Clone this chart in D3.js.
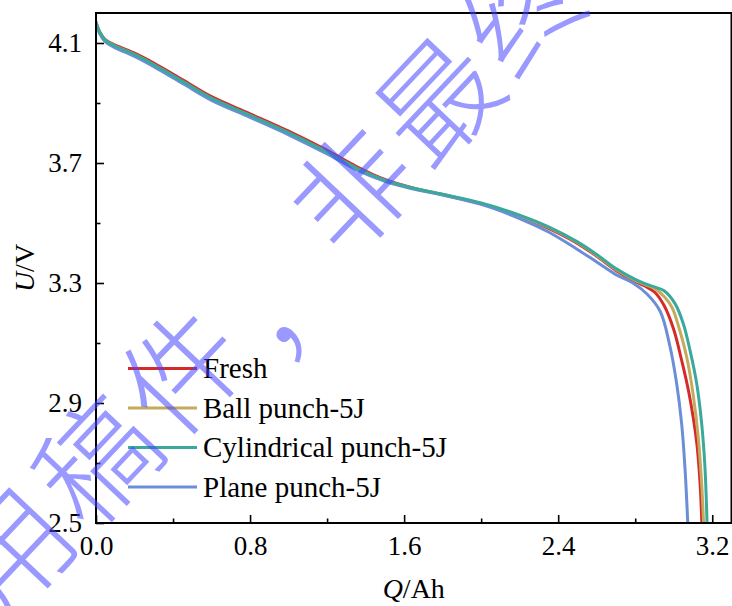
<!DOCTYPE html>
<html>
<head>
<meta charset="utf-8">
<script src="https://cdn.jsdelivr.net/npm/d3@7"></script>
<style>
  html, body { margin: 0; padding: 0; background: #fff; }
  svg { display: block; }
  .serif { font-family: "Liberation Serif", "Times New Roman", Times, Tinos, "DejaVu Serif", "Noto Serif", serif; }
</style>
</head>
<body>
<svg id="chart" width="732" height="606"></svg>
<script>
// ---- discharge curves: capacity Q (Ah) vs. voltage U (V) ----
const seriesNames  = ["Fresh", "Ball punch-5J", "Cylindrical punch-5J", "Plane punch-5J"];
const seriesColors = ["#d62a2a", "#c4aa5c", "#3aa99c", "#6a8ed8"];

const freshQ = [0, 0.02, 0.05, 0.1, 0.2, 0.3, 0.45, 0.6, 0.8, 1.0, 1.2, 1.35, 1.5, 1.65, 1.8, 2.0, 2.2, 2.35, 2.5, 2.6, 2.7, 2.8, 2.85, 2.9, 2.95, 3.0, 3.04, 3.08, 3.12, 3.137, 3.146];
const freshU = [4.170, 4.136, 4.110, 4.093, 4.066, 4.033, 3.977, 3.921, 3.864, 3.806, 3.742, 3.689, 3.645, 3.616, 3.595, 3.564, 3.522, 3.482, 3.432, 3.389, 3.342, 3.305, 3.290, 3.270, 3.225, 3.145, 3.045, 2.930, 2.765, 2.630, 2.500];

const ballQ = [0, 0.02, 0.05, 0.1, 0.2, 0.3, 0.45, 0.6, 0.8, 1.0, 1.2, 1.35, 1.5, 1.65, 1.8, 2.0, 2.2, 2.35, 2.5, 2.6, 2.7, 2.8, 2.85, 2.9, 2.95, 2.99, 3.03, 3.067, 3.1, 3.127, 3.145, 3.155];
const ballU = [4.168, 4.134, 4.108, 4.090, 4.061, 4.027, 3.971, 3.915, 3.858, 3.800, 3.736, 3.683, 3.642, 3.615, 3.595, 3.565, 3.524, 3.485, 3.435, 3.392, 3.345, 3.309, 3.295, 3.282, 3.255, 3.220, 3.145, 3.054, 2.932, 2.788, 2.632, 2.500];

const cylQ = [0, 0.02, 0.05, 0.1, 0.2, 0.3, 0.45, 0.6, 0.8, 1.0, 1.2, 1.35, 1.5, 1.65, 1.8, 2.0, 2.2, 2.35, 2.5, 2.6, 2.7, 2.8, 2.85, 2.9, 2.95, 3.006, 3.049, 3.084, 3.119, 3.145, 3.162, 3.173];
const cylU = [4.168, 4.135, 4.108, 4.090, 4.062, 4.028, 3.972, 3.916, 3.859, 3.801, 3.737, 3.684, 3.643, 3.616, 3.596, 3.567, 3.526, 3.487, 3.437, 3.395, 3.348, 3.312, 3.298, 3.287, 3.274, 3.232, 3.166, 3.077, 2.966, 2.832, 2.688, 2.500];

const planeQ = [0, 0.02, 0.05, 0.1, 0.2, 0.3, 0.45, 0.6, 0.8, 1.0, 1.2, 1.35, 1.5, 1.65, 1.8, 2.0, 2.2, 2.35, 2.5, 2.6, 2.7, 2.79, 2.86, 2.93, 2.98, 3.015, 3.041, 3.058, 3.073];
const planeU = [4.165, 4.130, 4.103, 4.084, 4.055, 4.021, 3.965, 3.909, 3.852, 3.794, 3.730, 3.678, 3.639, 3.613, 3.593, 3.562, 3.515, 3.470, 3.412, 3.370, 3.328, 3.299, 3.264, 3.205, 3.090, 2.966, 2.832, 2.688, 2.500];

const xMajorTicks = [0, 0.8, 1.6, 2.4, 3.2];
const xMinorTicks = [0.4, 1.2, 2.0, 2.8];
const yMajorTicks = [2.5, 2.9, 3.3, 3.7, 4.1];
const yMinorTicks = [2.7, 3.1, 3.5, 3.9];

const watermarkText = "录用稿件，非最终出版稿";

// ---- layout ----
const svg = d3.select("#chart");
const plotLeft = 96, plotRight = 731.5, plotTop = 13, plotBottom = 523;

const x = d3.scaleLinear().domain([0, 3.3]).range([plotLeft, plotRight]);
const y = d3.scaleLinear().domain([2.5, 4.2]).range([plotBottom, plotTop]);

const series = [
  { name: seriesNames[0], color: seriesColors[0], q: freshQ, u: freshU },
  { name: seriesNames[1], color: seriesColors[1], q: ballQ,  u: ballU },
  { name: seriesNames[2], color: seriesColors[2], q: cylQ,   u: cylU },
  { name: seriesNames[3], color: seriesColors[3], q: planeQ, u: planeU }
];

// clip curves to the plot frame
svg.append("defs").append("clipPath").attr("id", "plotClip")
  .append("rect").attr("x", plotLeft).attr("y", plotTop)
  .attr("width", plotRight - plotLeft).attr("height", plotBottom - plotTop);

const line = d3.line()
  .x(d => x(d[0]))
  .y(d => y(d[1]))
  .curve(d3.curveCatmullRom.alpha(0.5));

const drawOrder = [0, 1, 3, 2];
const curves = svg.append("g").attr("clip-path", "url(#plotClip)");
drawOrder.forEach(i => {
  const s = series[i];
  curves.append("path")
    .datum(s.q.map((q, k) => [q, s.u[k]]))
    .attr("d", line)
    .attr("fill", "none")
    .attr("stroke", s.color)
    .attr("stroke-width", 3)
    .attr("stroke-linejoin", "round")
    .attr("stroke-linecap", "round");
});

// ---- axes (ticks point inward) ----
const tickFmt = d3.format(".1f");

const gx = svg.append("g").attr("transform", `translate(0,${plotBottom})`);
gx.call(d3.axisBottom(x).tickValues(xMajorTicks).tickSize(-8).tickFormat(tickFmt));
const gxMinor = svg.append("g").attr("transform", `translate(0,${plotBottom})`);
gxMinor.call(d3.axisBottom(x).tickValues(xMinorTicks).tickSize(-4.5).tickFormat(""));

const gy = svg.append("g").attr("transform", `translate(${plotLeft},0)`);
gy.call(d3.axisLeft(y).tickValues(yMajorTicks).tickSize(-8).tickFormat(tickFmt));
const gyMinor = svg.append("g").attr("transform", `translate(${plotLeft},0)`);
gyMinor.call(d3.axisLeft(y).tickValues(yMinorTicks).tickSize(-4.5).tickFormat(""));

[gx, gxMinor, gy, gyMinor].forEach(g => {
  g.attr("font-family", null).attr("font-size", null);
  g.select(".domain").remove();
  g.selectAll(".tick line").attr("stroke", "#000").attr("stroke-width", 1.6);
});

gx.selectAll(".tick text")
  .attr("class", "serif")
  .attr("y", 32).attr("dy", 0)
  .attr("fill", "#000")
  .style("font-size", "27px");

gy.selectAll(".tick text")
  .attr("class", "serif")
  .attr("x", -14).attr("dy", "0.33em")
  .attr("fill", "#000")
  .style("font-size", "27px");

// frame
svg.append("rect")
  .attr("x", plotLeft).attr("y", plotTop)
  .attr("width", plotRight - plotLeft).attr("height", plotBottom - plotTop)
  .attr("fill", "none").attr("stroke", "#000").attr("stroke-width", 2);

// axis titles
const xt = svg.append("text")
  .attr("class", "serif")
  .attr("x", (plotLeft + plotRight) / 2).attr("y", 598)
  .attr("text-anchor", "middle")
  .style("font-size", "28px");
xt.append("tspan").style("font-style", "italic").text("Q");
xt.append("tspan").text("/Ah");

const yt = svg.append("text")
  .attr("class", "serif")
  .attr("transform", `translate(34,${(plotTop + plotBottom) / 2}) rotate(-90)`)
  .attr("text-anchor", "middle")
  .style("font-size", "28px");
yt.append("tspan").style("font-style", "italic").text("U");
yt.append("tspan").text("/V");

// ---- legend ----
const legend = svg.append("g");
const legendRowY = d3.scaleLinear().domain([0, 1]).range([368.5, 408]);
series.forEach((s, i) => {
  const ly = legendRowY(i);
  legend.append("line")
    .attr("x1", 128).attr("x2", 197)
    .attr("y1", ly).attr("y2", ly)
    .attr("stroke", s.color).attr("stroke-width", 3);
  legend.append("text")
    .attr("class", "serif")
    .attr("x", 203).attr("y", ly + 9.5)
    .style("font-size", "29px")
    .attr("fill", "#000")
    .text(s.name);
});

// ---- diagonal manuscript stamp ----
const stamp = svg.append("g")
  .attr("transform", "translate(352,190) rotate(-46.6)")
  .style("pointer-events", "none");
const stampSize = 124;
const chars = Array.from(watermarkText);
const anchorIdx = chars.indexOf("非");
chars.forEach((c, i) => {
  const isComma = c === "，";
  stamp.append("text")
    .attr("x", (i - anchorIdx) * stampSize + (isComma ? 5 : 0))
    .attr("y", isComma ? 25 : 0)
    .attr("text-anchor", "middle")
    .attr("dy", "0.38em")
    .style("font-family", "'Noto Sans CJK SC', sans-serif")
    .style("font-weight", 300)
    .style("font-size", stampSize * 0.95 + "px")
    .attr("fill", "rgb(70,70,255)")
    .attr("fill-opacity", 0.55)
    .text(c);
});
</script>
</body>
</html>
